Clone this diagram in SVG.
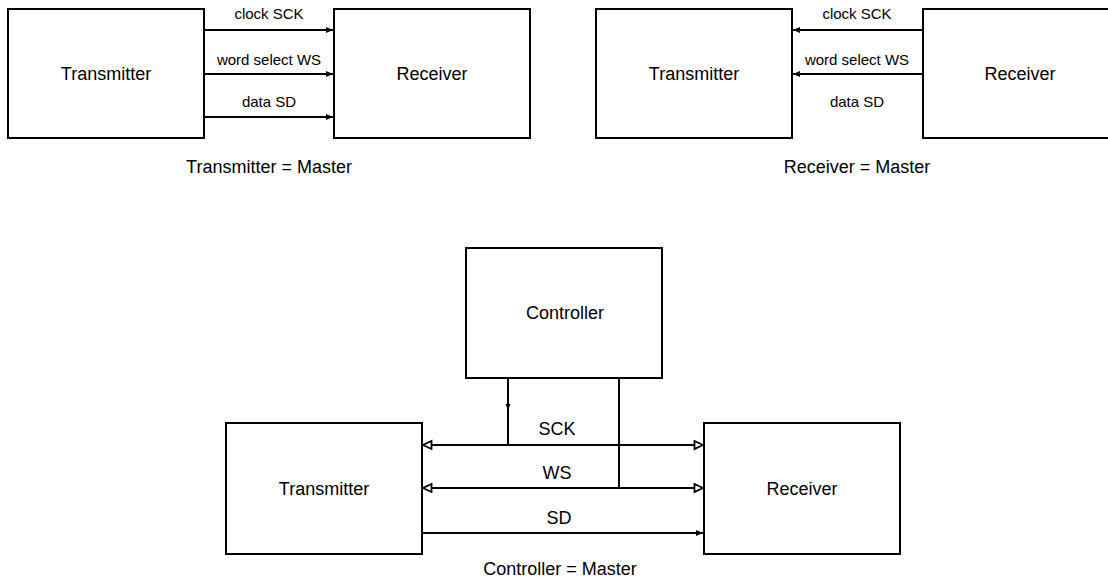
<svg xmlns="http://www.w3.org/2000/svg" width="1108" height="577" viewBox="0 0 1108 577">
<style>
.box{fill:#fff;stroke:#000;stroke-width:2}
.ln{fill:none;stroke:#000;stroke-width:2}
.t{font-family:"Liberation Sans",Arial,sans-serif;fill:#000;text-anchor:middle}
.big{font-size:18px}
.sm{font-size:15px}
</style>
<defs>
<marker id="af" markerUnits="userSpaceOnUse" markerWidth="8" markerHeight="8" refX="7" refY="3" orient="auto">
<path d="M0,0 L7,3 L0,6 z" fill="#000"/>
</marker>
<marker id="ah" markerUnits="userSpaceOnUse" markerWidth="12" markerHeight="12" refX="10" refY="5" orient="auto-start-reverse">
<path d="M1.5,1 L10,5 L1.5,9 z" fill="#fff" stroke="#000" stroke-width="1.8"/>
</marker>
</defs>
<rect width="1108" height="577" fill="#fff"/>

<g id="tl-transmitter"><rect class="box" x="8" y="9" width="196" height="129"/><text class="t big" x="106" y="80">Transmitter</text></g>
<g id="tl-receiver"><rect class="box" x="334" y="9" width="196" height="129"/><text class="t big" x="432" y="80">Receiver</text></g>
<g id="tr-transmitter"><rect class="box" x="596" y="9" width="196" height="129"/><text class="t big" x="694" y="80">Transmitter</text></g>
<g id="tr-receiver"><rect class="box" x="923" y="9" width="196" height="129"/><text class="t big" x="1020" y="80">Receiver</text></g>
<g id="controller"><rect class="box" x="466" y="248" width="196" height="130"/><text class="t big" x="565" y="319">Controller</text></g>
<g id="b-transmitter"><rect class="box" x="226" y="423" width="196" height="131"/><text class="t big" x="324" y="495">Transmitter</text></g>
<g id="b-receiver"><rect class="box" x="704" y="423" width="196" height="131"/><text class="t big" x="802" y="495">Receiver</text></g>

<g id="connectors">
<line class="ln" x1="204" y1="30" x2="333" y2="30" marker-end="url(#af)"/>
<line class="ln" x1="204" y1="74" x2="333" y2="74" marker-end="url(#af)"/>
<line class="ln" x1="204" y1="117" x2="333" y2="117" marker-end="url(#af)"/>
<line class="ln" x1="923" y1="30" x2="793" y2="30" marker-end="url(#af)"/>
<line class="ln" x1="923" y1="74" x2="793" y2="74" marker-end="url(#af)"/>

<line class="ln" x1="508" y1="378" x2="508" y2="445"/>
<path d="M505.5,404 L508,410 L510.5,404 z" fill="#000"/>
<line class="ln" x1="619" y1="378" x2="619" y2="488"/>
<line class="ln" x1="423" y1="445" x2="703" y2="445" marker-start="url(#ah)" marker-end="url(#ah)"/>
<line class="ln" x1="423" y1="488" x2="703" y2="488" marker-start="url(#ah)" marker-end="url(#ah)"/>
<line class="ln" x1="422" y1="533" x2="703" y2="533" marker-end="url(#af)"/>
</g>

<g id="labels">
<text class="t sm" x="269" y="19">clock SCK</text>
<text class="t sm" x="269" y="65">word select WS</text>
<text class="t sm" x="269" y="107">data SD</text>
<text class="t sm" x="857" y="19">clock SCK</text>
<text class="t sm" x="857" y="65">word select WS</text>
<text class="t sm" x="857" y="107">data SD</text>
<text class="t big" x="269" y="173">Transmitter = Master</text>
<text class="t big" x="857" y="173">Receiver = Master</text>
<text class="t big" x="557" y="435">SCK</text>
<text class="t big" x="557" y="479">WS</text>
<text class="t big" x="559" y="524">SD</text>
<text class="t big" x="560" y="575">Controller = Master</text>
</g>
</svg>
